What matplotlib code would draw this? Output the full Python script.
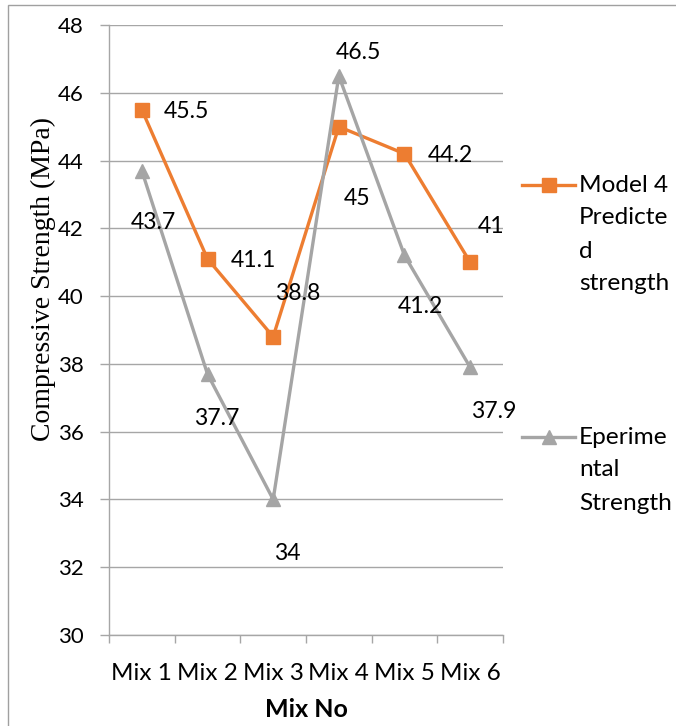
import matplotlib
matplotlib.use("Agg")
import matplotlib.pyplot as plt
from matplotlib.lines import Line2D
from matplotlib.patches import Rectangle

# Data
mixes = ["Mix 1", "Mix 2", "Mix 3", "Mix 4", "Mix 5", "Mix 6"]
predicted = [45.5, 41.1, 38.8, 45.0, 44.2, 41.0]
experimental = [43.7, 37.7, 34.0, 46.5, 41.2, 37.9]
yticks = [30, 32, 34, 36, 38, 40, 42, 44, 46, 48]

# Label offsets (points) relative to each marker
pred_off = [(32, -1.5), (33, -1.5), (18, 31), (13, -52), (33, -1.5), (15, 26)]
exp_off = [(8, -37.5), (6.5, -32), (10, -39), (14, 16.5), (11.5, -37), (17, -32)]

ORANGE = "#ED7D31"
GRAY = "#A5A5A5"
GRID = "#A6A6A6"
sans = ["Lato", "DejaVu Sans"]

fig = plt.figure(figsize=(6.76, 7.26), dpi=100)
ax = fig.add_axes([109 / 676, 1 - 635 / 726, (503 - 109) / 676, (635 - 25) / 726])

x = list(range(1, len(mixes) + 1))
ax.plot(x, predicted, color=ORANGE, lw=2.4, marker="s", ms=10.5, zorder=3)
ax.plot(x, experimental, color=GRAY, lw=2.4, marker="^", ms=10.5, zorder=3)

for xi, v, off in zip(x, predicted, pred_off):
    ax.annotate(f"{v:g}", (xi, v), xytext=off, textcoords="offset points",
                ha="center", va="center", fontsize=16.6, family=sans, color="black")
for xi, v, off in zip(x, experimental, exp_off):
    ax.annotate(f"{v:g}", (xi, v), xytext=off, textcoords="offset points",
                ha="center", va="center", fontsize=16.6, family=sans, color="black")

ax.set_xlim(0.5, len(mixes) + 0.5)
ax.set_ylim(30, 48)
ax.set_yticks(yticks)
ax.set_yticklabels([str(t) for t in yticks], family=sans, fontsize=16)
ax.set_xticks(x)
ax.set_xticklabels(mixes, family=sans, fontsize=17.5)
ax.set_xticks([i + 0.5 for i in range(0, len(mixes) + 1)], minor=True)
ax.tick_params(axis="x", which="major", length=0, pad=20)
ax.tick_params(axis="x", which="minor", length=6, color=GRID, width=1)
ax.tick_params(axis="y", length=6.5, color=GRID, width=1, pad=11.5)
ax.grid(axis="y", color=GRID, lw=1)
ax.set_axisbelow(True)
for s in ["top", "right"]:
    ax.spines[s].set_visible(False)
for s in ["left", "bottom"]:
    ax.spines[s].set_color(GRID)
    ax.spines[s].set_linewidth(1)

ax.set_xlabel("Mix No", family=sans, fontsize=18, fontweight="bold", labelpad=10)
fig.text(43 / 676, 1 - 279 / 726, "Compressive Strength (MPa)", rotation=90,
         ha="center", va="center", family="Liberation Serif", fontsize=20)

# Legend drawn at the right of the plot
def legend_entry(y_px, color, marker, lines):
    yf = 1 - y_px / 726
    fig.add_artist(Line2D([522 / 676, 575 / 676], [yf, yf], color=color, lw=2.4,
                          transform=fig.transFigure))
    fig.add_artist(Line2D([548.5 / 676], [yf], color=color, marker=marker, ms=10.5,
                          transform=fig.transFigure))
    for i, line in enumerate(lines):
        fig.text(579 / 676, 1 - (y_px + i * 33) / 726, line, ha="left", va="center",
                 fontsize=17.6, family=sans)

legend_entry(185, ORANGE, "s", ["Model 4", "Predicte", "d", "strength"])
legend_entry(437, GRAY, "^", ["Eperime", "ntal", "Strength"])

# Chart border
fig.add_artist(Rectangle((8 / 676, -0.1), 1.2, 1 - 5 / 726 + 0.1, fill=False,
                         edgecolor="#A0A0A0", lw=1, transform=fig.transFigure))

fig.savefig("out.png", dpi=100)
